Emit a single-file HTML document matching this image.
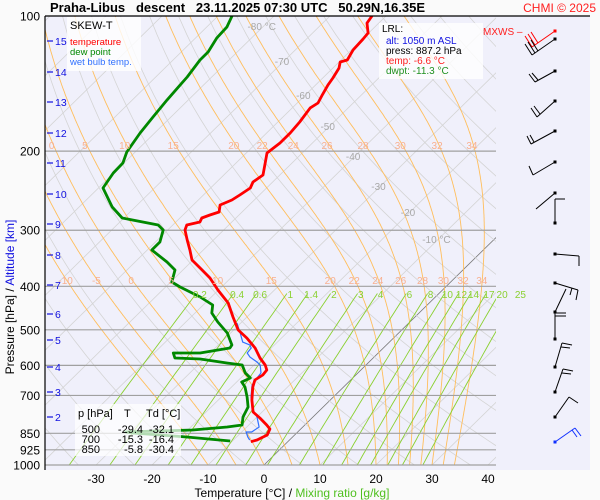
<!DOCTYPE html>
<html><head><meta charset="utf-8">
<style>
html,body{margin:0;padding:0;background:#fafafa;}
svg{display:block;font-family:"Liberation Sans",sans-serif;}
</style></head>
<body>
<svg id="c" width="600" height="500" viewBox="0 0 600 500" xmlns="http://www.w3.org/2000/svg">
<defs><clipPath id="pc"><rect x="45" y="16" width="451" height="449"/></clipPath></defs>
<rect x="45" y="16" width="545" height="454" fill="#f0f0fb"/>
<g id="grid" clip-path="url(#pc)"></g>
<g id="plev"></g>
<g id="series" clip-path="url(#pc)"></g>
<g id="labels"></g>
<line x1="45" y1="16" x2="590" y2="16" stroke="#000" stroke-width="1.2"/>
<line x1="45" y1="16" x2="45" y2="470" stroke="#000" stroke-width="1.2"/>
<text x="50" y="12" font-size="13" font-weight="bold" xml:space="preserve">Praha-Libus   descent   23.11.2025 07:30 UTC   50.29N,16.35E</text>
<text x="596" y="12" font-size="12" fill="#ff2020" text-anchor="end">CHMI © 2025</text>
<g>
<rect x="67" y="17" width="74" height="54" fill="#fff" fill-opacity="0.8"/>
<text x="70" y="29" font-size="11">SKEW-T</text>
<text x="70" y="45" font-size="9.5" fill="#ff0000">temperature</text>
<text x="70" y="55" font-size="9.5" fill="#008800">dew point</text>
<text x="70" y="65" font-size="9.5" fill="#3070ff">wet bulb temp.</text>
</g>
<g>
<rect x="379" y="23" width="104" height="56" fill="#fff" fill-opacity="0.8"/>
<text x="382" y="32" font-size="10">LRL:</text>
<text x="386" y="44" font-size="10" fill="#1010e0">alt: 1050 m ASL</text>
<text x="386" y="54" font-size="10">press: 887.2 hPa</text>
<text x="386" y="64" font-size="10" fill="#ff2020">temp: -6.6 °C</text>
<text x="386" y="74" font-size="10" fill="#209020">dwpt: -11.3 °C</text>
</g>
<text x="483" y="35" font-size="10" fill="#ff2020">MXWS –</text>
<g font-size="11">
<rect x="75" y="404" width="106" height="52" fill="#fff" fill-opacity="0.7"/>
<text x="78" y="417">p [hPa]</text><text x="124" y="417">T</text><text x="146" y="417">Td [°C]</text>
<text x="100" y="433" text-anchor="end">500</text><text x="143" y="433" text-anchor="end">-29.4</text><text x="174" y="433" text-anchor="end">-32.1</text>
<text x="100" y="443" text-anchor="end">700</text><text x="143" y="443" text-anchor="end">-15.3</text><text x="174" y="443" text-anchor="end">-16.4</text>
<text x="100" y="453" text-anchor="end">850</text><text x="143" y="453" text-anchor="end">-5.8</text><text x="174" y="453" text-anchor="end">-30.4</text>
</g>
<g id="barbs"></g>
<text transform="translate(14,297) rotate(-90)" font-size="12" text-anchor="middle">Pressure [hPa]  /  <tspan fill="#1010e0">Altitude [km]</tspan></text>
<text x="292" y="497" font-size="12" text-anchor="middle">Temperature [°C]  /  <tspan fill="#50c020">Mixing ratio [g/kg]</tspan></text>
</svg>
<script>
// ---- data ----
var tempP=[100,103.7,109.1,112.5,119,125.3,126.6,130.6,137.4,142.4,149.9,156.2,160.2,172.2,182.2,191.8,201.9,212.5,226,234.3,241.6,250.4,256.9,263.6,273.2,277.5,281.8,287.6,292.1,299.7,315.4,332,349.5,364.1,383.3,407.6,435.7,468.1,500.4,521.4,548.8,577.7,598.8,614.3,630.3,646.7,670.3,716.5,762,785.8,814.5,831.4,857.4,879.7,887.2];
var tempT=[-62.5,-62.1,-60.1,-59.9,-59.7,-58.9,-59.8,-58.9,-58.2,-57.8,-57,-56.3,-56.8,-56.1,-55.8,-55.8,-56.3,-54.8,-53,-53.5,-52.9,-53.5,-54,-55.2,-54.1,-55.2,-56.1,-55.7,-57.5,-56.9,-54.7,-52.4,-50.2,-47.3,-43.7,-40.1,-35.9,-32.5,-29.2,-26.2,-22.9,-20.2,-18,-16.8,-16.6,-17.1,-16.2,-14,-11.6,-9.3,-6.8,-5.5,-4.9,-5.8,-6.6];
var dewP=[100,105.8,112,120.3,125.3,136.7,142.4,153.8,167.9,182.2,200.9,212.5,223.7,241.6,266.3,281.8,292.1,299.7,318.7,332,353.1,367.9,391.2,401.4,422.5,440.2,458.7,480.3,500.4,508.2,540.4,548.8,563.1,563.1,577.7,580.7,592.7,598.8,623.9,640.1,653.4,670.3,705.6,742.8,781.8,814.5,822.9,835.7,844.3,848.7,866.2,884.2];
var dewT=[-87.5,-86.4,-86.2,-85.2,-85.2,-84.4,-84.2,-83.8,-83.2,-82.6,-81.5,-80.2,-80.1,-79.2,-74.1,-70.3,-62.6,-60.8,-59.2,-59.2,-54.3,-51.4,-49.8,-47.4,-42,-38.3,-37,-34.3,-31.6,-30.6,-27.6,-27.4,-31.8,-36.6,-35.4,-30.7,-25.2,-22.1,-20.1,-18.3,-19.1,-17.6,-15.4,-13.4,-12.5,-11.2,-13.5,-19.1,-30.7,-29.2,-18.9,-10.4];
var wbP=[482.8,508.2,532.2,540.4,548.8,563.1,574.7,589.7,598.8,623.9,640.1,663.4,705.6,746.6,781.8,822.9,844.3,844.3,866.2,879.7];
var wbT=[-30.7,-28.3,-26.2,-24.4,-23.6,-23.4,-22.2,-20,-18.9,-17.3,-17.1,-16.7,-14.7,-12.5,-10,-7.8,-8.2,-9.2,-8,-7.1];
var pLevels=[100,200,300,400,500,600,700,850,925,1000];
var altKm=[2,3,4,5,6,7,8,9,10,11,12,13,14,15];
var altY=[417,392,367,340,314,285,255,224,194,163,133,102,72,41];
var xTicks=[-30,-20,-10,0,10,20,30,40];
var thetaW=[-10,-5,0,5,10,15,20,22,24,26,28,30,32,34];
var mixR=[0.2,0.4,0.6,1,1.4,2,3,4,6,8,10,12,14,17,20,25];
var isoLabT=[-80,-70,-60,-50,-40,-30,-20,-10];
var isoLabY=[30,65,99,130,160,190,216,243];

// ---- axes ----
function Y(p){return 465-195*Math.log(1000/p);}
function X(T,p){return 264+5.6*T+1.02*(465-Y(p));}
var NS="http://www.w3.org/2000/svg";
function mk(tag,attrs,parent){var e=document.createElementNS(NS,tag);for(var k in attrs)e.setAttribute(k,attrs[k]);parent.appendChild(e);return e;}
function pathFrom(ps,ts){var d="";for(var i=0;i<ps.length;i++){d+=(i?"L":"M")+X(ts[i],ps[i]).toFixed(1)+","+Y(ps[i]).toFixed(1);}return d;}
var grid=document.getElementById('grid'),lab=document.getElementById('labels'),ser=document.getElementById('series'),plev=document.getElementById('plev');

// isotherms
for(var T=-160;T<=50;T+=10){
  var l=mk('line',{x1:X(T,1000),y1:Y(1000),x2:X(T,100),y2:Y(100),stroke:T===0?'#777':'#d4d4d4','stroke-width':T===0?0.8:0.8},grid);
  
  
}
// dry adiabats
for(var th=200;th<=520;th+=10){
  var ps=[],ts=[];
  for(var p=1000;p>=100;p-=10){ps.push(p);ts.push(th*Math.pow(p/1000,0.2857)-273.15);}
  var e=mk('path',{d:pathFrom(ps,ts),fill:'none',stroke:'#d4d4d4','stroke-width':0.8},grid);
  
  
}
// moist adiabats
function dTdp(T,p){var es=6.112*Math.exp(17.67*(T-273.15)/(T-29.65));var rs=0.622*es/(p-es);
  var num=(287*T+2.5e6*rs)/p;var den=1005+2.5e6*2.5e6*rs*0.622/(287*T*T);return num/den;}
thetaW.forEach(function(tw){
  var ps=[],ts=[],T=tw+273.15,p=1000,h=-2;
  var at193=null,at387=null;
  while(p>=100){ps.push(p);ts.push(T-273.15);
    if(at387===null&&p<=387)at387=T-273.15; if(at193===null&&p<=193)at193=T-273.15;
    var k1=dTdp(T,p),k2=dTdp(T+h*k1,p+h);T+=h*(k1+k2)/2;p+=h;}
  var e=mk('path',{d:pathFrom(ps,ts),fill:'none',stroke:'#ffbe5c','stroke-width':0.9},grid);
  
  
  var t1=mk('text',{x:X(at387,387),y:284,'font-size':10,fill:'#f8b090','text-anchor':'middle'},lab);t1.textContent=tw;
  
  
  if(tw>=0){var t2=mk('text',{x:X(at193,193),y:149,'font-size':10,fill:'#f8b090','text-anchor':'middle'},lab);t2.textContent=tw;
  
  }
});
// mixing ratio lines
function tdOf(w,p){var e=w*p/(622+w);var g=Math.log(e/6.112);return 243.5*g/(17.67-g);}
mixR.forEach(function(w){
  var ps=[],ts=[];for(var p=1000;p>=415;p-=15){ps.push(p);ts.push(tdOf(w,p));}
  var e=mk('path',{d:pathFrom(ps,ts),fill:'none',stroke:'#8ad030','stroke-width':0.9},grid);
  
  
  var t=mk('text',{x:X(tdOf(w,405),405),y:298,'font-size':10,fill:'#8ad030','text-anchor':'middle'},lab);t.textContent=w;
  
  
});
// isotherm labels
isoLabT.forEach(function(t,i){var p=1000*Math.exp(-(465-isoLabY[i])/195);
  var e=mk('text',{x:X(t,p)+2,y:isoLabY[i],'font-size':10,fill:'#a8a8a8','text-anchor':'middle'},lab);
  e.textContent=t+((t===-80||t===-10)?' °C':'');
  
  
});
// pressure levels
pLevels.forEach(function(p){
  if(p>100){var l=mk('line',{x1:45,y1:Y(p),x2:496,y2:Y(p),stroke:'#a0a0a0','stroke-width':1.2},plev);
  
  }
  var t=mk('text',{x:40,y:Y(p)+4.5,'font-size':12,'text-anchor':'end'},lab);t.textContent=p;
  
  
});
// altitude
altKm.forEach(function(a,i){
  var l=mk('line',{x1:47,y1:altY[i],x2:53,y2:altY[i],stroke:'#1010e0','stroke-width':1.2},lab);
  
  
  var t=mk('text',{x:55,y:altY[i]+4,'font-size':10.5,fill:'#1010e0'},lab);t.textContent=a;
  
  
});
// x ticks
xTicks.forEach(function(v){var t=mk('text',{x:X(v,1000),y:483,'font-size':12,'text-anchor':'middle'},lab);t.textContent=v;
  
  });
// series
var wb=mk('path',{d:pathFrom(wbP,wbT),fill:'none',stroke:'#3070ff','stroke-width':1.2},ser);


var tl=mk('path',{d:pathFrom(tempP,tempT),fill:'none',stroke:'#ff0000','stroke-width':2.8,'stroke-linejoin':'round'},ser);


var dl=mk('path',{d:pathFrom(dewP,dewT),fill:'none',stroke:'#008800','stroke-width':2.8,'stroke-linejoin':'round'},ser);



// wind barbs (visual)
var barbs=document.getElementById('barbs');
var B=[
 [31,'#f00',[[0,0,-23,16],[-23,16,-30,5],[-20,14,-27,3],[-17,12,-24,1]]],
 [39,'#000',[[0,0,-23,16],[-23,16,-30,5],[-20,14,-27,3],[-17,12,-24,1]]],
 [71,'#000',[[0,0,-20,11],[-20,11,-26,3],[-17,9,-23,2]]],
 [101,'#000',[[0,0,-18,16],[-18,16,-24,7],[-15,13,-21,5]]],
 [131,'#000',[[0,0,-24,13],[-24,13,-28,5],[-21,11,-25,4]]],
 [162,'#000',[[0,0,-22,13],[-22,13,-26,4]]],
 [193,'#000',[[0,0,-19,16]]],
 [223,'#000',[[0,0,0,-24],[0,-24,10,-24]]],
 [254,'#000',[[0,0,24,2],[24,2,24,12]]],
 [283,'#000',[[0,0,23,7],[23,7,21,17],[17,5,15,12]]],
 [312,'#000',[[0,0,11,-23]]],
 [339,'#000',[[0,0,0,-27],[0,-26,11,-26],[0,-23,11,-23]]],
 [367,'#000',[[0,0,7,-24],[7,-24,17,-22],[6,-20,15,-19]]],
 [392,'#000',[[0,0,8,-23],[8,-23,18,-21],[7,-19,16,-18]]],
 [417,'#000',[[0,0,14,-20],[14,-20,23,-14]]],
 [442,'#1030ff',[[0,0,20,-14],[20,-14,26,-6],[17,-12,22,-5]]]
];
B.forEach(function(b){
  var g=mk('g',{},barbs);
  
  
  b[2].forEach(function(s){mk('line',{x1:555+s[0],y1:b[0]+s[1],x2:555+s[2],y2:b[0]+s[3],stroke:b[1],'stroke-width':1},g);});
  mk('rect',{x:553.5,y:b[0]-1.5,width:3,height:3,fill:b[1]},g);
});
</script>
</body></html>
